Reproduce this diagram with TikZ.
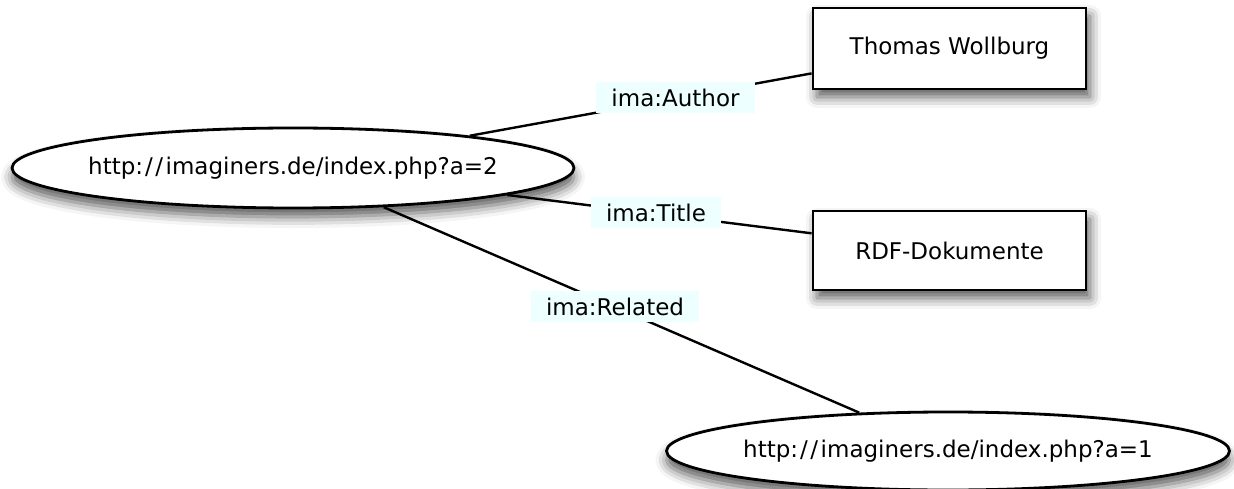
\documentclass[tikz,border=0pt]{standalone}
\usepackage{fontspec}
\setmainfont{DejaVu Sans}
\usetikzlibrary{shapes.geometric,shadows.blur}
\definecolor{labelbg}{RGB}{238,255,255}
\newcommand{\urlslash}{/\kern2.5pt}
\begin{document}
\begin{tikzpicture}[x=1pt,y=-1pt,
  every node/.style={font=\fontsize{23}{27}\selectfont},
  resource/.style={ellipse, draw, line width=2.8pt, fill=white, inner xsep=-30pt, inner ysep=0pt,
    minimum width=562pt, minimum height=80pt,
    blur shadow={shadow xshift=0pt, shadow yshift=-9pt, shadow blur radius=11pt, shadow opacity=65}},
  literal/.style={rectangle, draw, line width=2.8pt, fill=white, inner sep=0pt,
    minimum width=273pt, minimum height=80pt,
    blur shadow={shadow xshift=4pt, shadow yshift=-8pt, shadow blur radius=11pt, shadow opacity=65}},
  prop/.style={fill=labelbg, inner xsep=15pt, inner ysep=0pt, minimum height=31pt},
  conn/.style={draw, line width=2.4pt}]
\useasboundingbox (0,0) rectangle (1234,489);
\node[resource] (a2) at (293,168) {http:\kern2pt\urlslash\urlslash imaginers.de/index.php?a=2};
\node[resource, minimum height=78pt, minimum width=563pt] (a1) at (948,451) {http:\kern2pt\urlslash\urlslash imaginers.de/index.php?a=1};
\node[literal, minimum height=81pt] (tw) at (949.5,48.5) {Thomas Wollburg};
\node[literal, minimum height=79pt] (rdf) at (949.5,250.5) {RDF-Dokumente};
\path[conn] (a2) -- (tw);
\path[conn] (a2) -- (rdf);
\path[conn] (a2) -- (a1);
\node[prop] (author) at (675.5,98) {ima:Author};
\node[prop] (title) at (656,213) {ima:Title};
\node[prop] (related) at (615,306.5) {ima:Related};
\end{tikzpicture}
\end{document}
